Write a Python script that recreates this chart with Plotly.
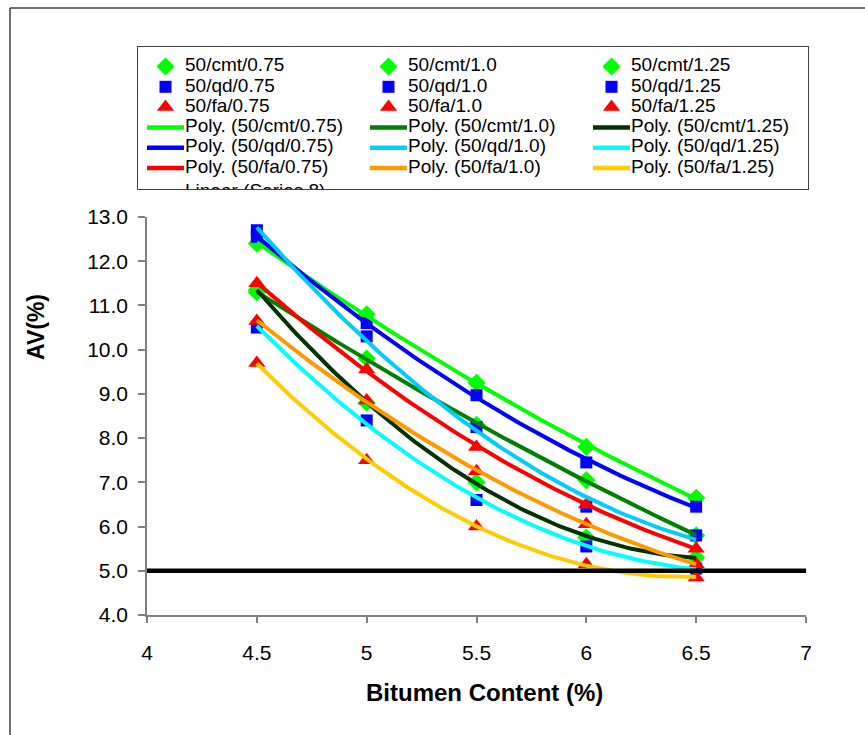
import numpy as np
import plotly.graph_objects as go

# ---- data -------------------------------------------------------------
bitumen = [4.5, 5.0, 5.5, 6.0, 6.5]

cmt_075 = [12.4, 10.8, 9.25, 7.8, 6.65]
cmt_100 = [11.3, 9.8, 8.3, 7.05, 5.8]
cmt_125 = [11.35, 8.8, 7.0, 5.75, 5.3]
qd_075 = [12.55, 10.6, 8.97, 7.45, 6.45]
qd_100 = [12.7, 10.3, 8.25, 6.45, 5.8]
qd_125 = [10.5, 8.4, 6.6, 5.55, 5.05]
fa_075 = [11.5, 9.55, 7.8, 6.5, 5.5]
fa_100 = [10.65, 8.85, 7.25, 6.05, 5.15]
fa_125 = [9.7, 7.5, 6.0, 5.15, 4.85]

series_names = ["50/cmt/0.75", "50/cmt/1.0", "50/cmt/1.25",
                "50/qd/0.75", "50/qd/1.0", "50/qd/1.25",
                "50/fa/0.75", "50/fa/1.0", "50/fa/1.25"]
series_values = [cmt_075, cmt_100, cmt_125,
                 qd_075, qd_100, qd_125,
                 fa_075, fa_100, fa_125]

limit_x = [4.0, 7.0]
limit_y = [5.0, 5.0]
limit_name = "Linear (Series 8)"

x_tick_vals = [4.0, 4.5, 5.0, 5.5, 6.0, 6.5, 7.0]
x_tick_text = ["4", "4.5", "5", "5.5", "6", "6.5", "7"]
y_tick_vals = [4, 5, 6, 7, 8, 9, 10, 11, 12, 13]

# ---- styles -----------------------------------------------------------
FONT = "Liberation Sans, Arial, sans-serif"
marker_style = {
    "cmt": dict(symbol="diamond", color="#00FF00", size=14),
    "qd": dict(symbol="square", color="#0000FF", size=12),
    "fa": dict(symbol="triangle-up", color="#FF0000", size=15),
}
trend_colors = ["#00FF00", "#008000", "#003300",
                "#0000FF", "#00CCFF", "#00FFFF",
                "#FF0000", "#FF9900", "#FFCC00"]

W, H = 865, 735
ML, MR, MT, MB = 130, 50, 40, 120
PW, PH = W - ML - MR, H - MT - MB


def px_x(p):
    return (p - ML) / PW


def px_y(p):
    return (H - MB - p) / PH


fig = go.Figure()

# scatter points
for name, vals in zip(series_names, series_values):
    st = marker_style[name.split("/")[1]]
    fig.add_trace(go.Scatter(
        x=bitumen, y=vals, mode="markers", name=name, showlegend=False,
        marker=dict(symbol=st["symbol"], color=st["color"], size=st["size"],
                    line=dict(width=0)),
        cliponaxis=False))

# second-order polynomial trendlines
xs = np.linspace(bitumen[0], bitumen[-1], 101)
for name, vals, col in zip(series_names, series_values, trend_colors):
    coef = np.polyfit(bitumen, vals, 2)
    fig.add_trace(go.Scatter(
        x=xs, y=np.polyval(coef, xs), mode="lines", name=f"Poly. ({name})",
        showlegend=False, line=dict(color=col, width=4)))

# 5 % limit line
fig.add_trace(go.Scatter(x=limit_x, y=limit_y, mode="lines", name=limit_name,
                         showlegend=False,
                         line=dict(color="#000000", width=4.5)))

# ---- legend panel (drawn on its own small axes so it clips) ------------
leg_rows = []  # (row, col, kind, style, label)
for i, name in enumerate(series_names):
    st = marker_style[name.split("/")[1]]
    leg_rows.append((i // 3, i % 3, "marker", st, name))
for i, name in enumerate(series_names):
    leg_rows.append((3 + i // 3, i % 3, "line", trend_colors[i], f"Poly. ({name})"))
# the last entry overflows the legend frame and is cut off by it
leg_rows.append((6.2, 0, "line", "#000000", limit_name))

COL_W = 223.0
ROW_H = 20.3
box_l, box_r, box_t, box_b = 138, 808, 47, 189
LINE0, LINE1, MK, TXT = 9, 46, 27.5, 47
FIRST_ROW = 19.5

for r, c, kind, st, label in leg_rows:
    if kind == "marker":
        fig.add_trace(go.Scatter(
            x=[c * COL_W + MK], y=[r], mode="markers", xaxis="x2", yaxis="y2",
            showlegend=False, hoverinfo="skip",
            marker=dict(symbol=st["symbol"], color=st["color"],
                        size=st["size"], line=dict(width=0))))
    else:
        fig.add_trace(go.Scatter(
            x=[c * COL_W + LINE0, c * COL_W + LINE1], y=[r, r], mode="lines",
            xaxis="x2", yaxis="y2", showlegend=False, hoverinfo="skip",
            line=dict(color=st, width=4.5)))
fig.add_trace(go.Scatter(
    x=[c * COL_W + TXT for r, c, *_ in leg_rows],
    y=[r for r, *_ in leg_rows],
    text=[lab for *_, lab in leg_rows],
    mode="text", textposition="middle right", xaxis="x2", yaxis="y2",
    showlegend=False, hoverinfo="skip",
    textfont=dict(family=FONT, size=19, color="#000000")))

box_w = box_r - box_l
box_h = box_b - box_t
y_top = -FIRST_ROW / ROW_H
y_bot = y_top + box_h / ROW_H

# outer chart frame (top and left edges)
shapes = [
    dict(type="line", xref="paper", yref="paper", x0=px_x(10), x1=px_x(870),
         y0=px_y(8), y1=px_y(8), line=dict(color="#404040", width=1.5)),
    dict(type="line", xref="paper", yref="paper", x0=px_x(10), x1=px_x(10),
         y0=px_y(8), y1=px_y(740), line=dict(color="#404040", width=1.5)),
]

axis_common = dict(showgrid=False, zeroline=False, showline=True,
                   linecolor="#808080", linewidth=1.5, ticks="outside",
                   tickcolor="#808080", tickwidth=1.5,
                   tickfont=dict(family=FONT, size=21, color="#000000"))

fig.update_layout(
    width=W, height=H,
    margin=dict(l=ML, r=MR, t=MT, b=MB),
    paper_bgcolor="white", plot_bgcolor="white",
    showlegend=False,
    xaxis=dict(domain=[px_x(147), px_x(806)], range=[4, 7],
               tickvals=x_tick_vals, ticktext=x_tick_text, ticklen=6,
               ticklabelstandoff=12, anchor="y", **axis_common),
    yaxis=dict(domain=[0, px_y(217)], range=[4, 13], tickvals=y_tick_vals,
               tickformat=".1f", ticklen=7, ticklabelstandoff=6,
               anchor="x", **axis_common),
    xaxis2=dict(domain=[px_x(box_l), px_x(box_r)], range=[0, box_w],
                anchor="y2", showgrid=False, zeroline=False, showticklabels=False,
                showline=True, mirror=True, linecolor="#404040", linewidth=1.2,
                ticks="", fixedrange=True),
    yaxis2=dict(domain=[px_y(box_b), px_y(box_t)], range=[y_bot, y_top],
                anchor="x2", showgrid=False, zeroline=False, showticklabels=False,
                showline=True, mirror=True, linecolor="#404040", linewidth=1.2,
                ticks="", fixedrange=True),
    shapes=shapes,
    annotations=[
        dict(text="<b>Bitumen Content (%)</b>", xref="paper", yref="paper",
             x=px_x(484), y=px_y(692), showarrow=False, xanchor="center",
             yanchor="middle", font=dict(family=FONT, size=24, color="#000000")),
        dict(text="<b>AV(%)</b>", xref="paper", yref="paper",
             x=px_x(36), y=px_y(327), showarrow=False, textangle=-90,
             xanchor="center", yanchor="middle",
             font=dict(family=FONT, size=23, color="#000000")),
    ],
)

fig.write_html("out.html")
